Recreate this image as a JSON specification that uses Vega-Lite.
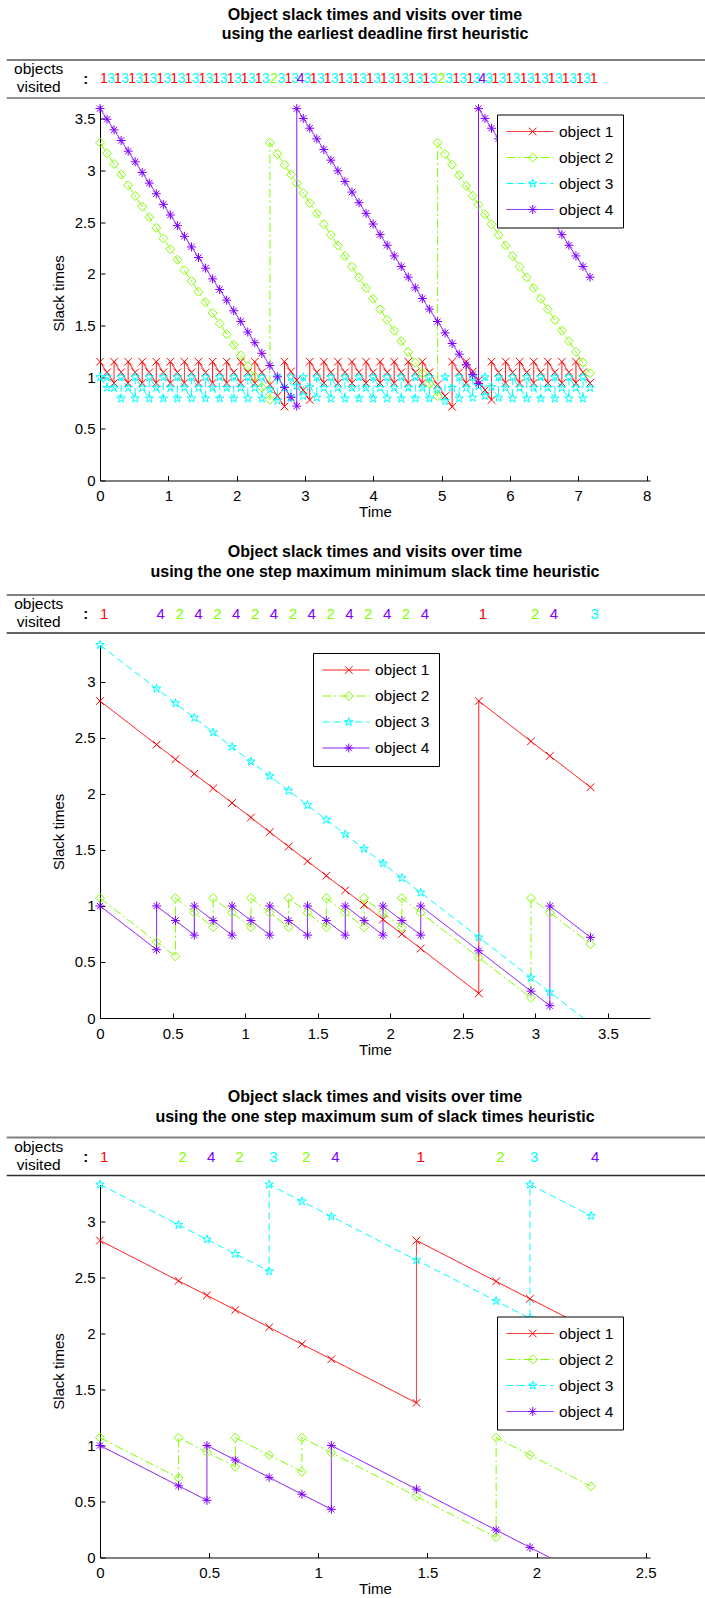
{
"$schema":"https://vega.github.io/schema/vega-lite/v6.json",
"padding":{"left":5,"top":6,"right":0,"bottom":0},
"config":{"view":{"stroke":null},"font":"Liberation Sans",
 "axis":{"domainColor":"black","domainWidth":1,"tickColor":"black","tickSize":-5,"tickWidth":1,"labelColor":"black","labelFontSize":15,"labelFont":"Liberation Sans","titleFont":"Liberation Sans","titleFontSize":15,"titleFontWeight":"normal","titleColor":"black","grid":false},
 "axisX":{"labelPadding":13,"titlePadding":1},
 "axisY":{"labelPadding":10,"titlePadding":8},
 "title":{"fontSize":16,"fontWeight":"bold","font":"Liberation Sans","color":"black","lineHeight":19.5,"offset":17,"anchor":"middle","frame":"group"}},
"datasets":{
"p1":[
{"o":1,"t":0,"s":1.15},{"o":1,"t":0.103,"s":1.047},{"o":1,"t":0.206,"s":0.944},{"o":1,"t":0.206,"s":1.15},{"o":1,"t":0.309,"s":1.047},{"o":1,"t":0.412,"s":0.944},{"o":1,"t":0.412,"s":1.15},{"o":1,"t":0.515,"s":1.047},{"o":1,"t":0.618,"s":0.944},{"o":1,"t":0.618,"s":1.15},{"o":1,"t":0.721,"s":1.047},{"o":1,"t":0.824,"s":0.944},{"o":1,"t":0.824,"s":1.15},{"o":1,"t":0.927,"s":1.047},{"o":1,"t":1.03,"s":0.944},{"o":1,"t":1.03,"s":1.15},{"o":1,"t":1.133,"s":1.047},{"o":1,"t":1.236,"s":0.944},{"o":1,"t":1.236,"s":1.15},{"o":1,"t":1.339,"s":1.047},{"o":1,"t":1.442,"s":0.944},{"o":1,"t":1.442,"s":1.15},{"o":1,"t":1.545,"s":1.047},{"o":1,"t":1.648,"s":0.944},{"o":1,"t":1.648,"s":1.15},{"o":1,"t":1.751,"s":1.047},{"o":1,"t":1.854,"s":0.944},{"o":1,"t":1.854,"s":1.15},{"o":1,"t":1.957,"s":1.047},{"o":1,"t":2.06,"s":0.944},{"o":1,"t":2.06,"s":1.15},{"o":1,"t":2.163,"s":1.047},{"o":1,"t":2.266,"s":0.944},{"o":1,"t":2.266,"s":1.15},{"o":1,"t":2.369,"s":1.047},{"o":1,"t":2.487,"s":0.929},{"o":1,"t":2.597,"s":0.819},{"o":1,"t":2.7,"s":0.716},{"o":1,"t":2.7,"s":1.15},{"o":1,"t":2.795,"s":1.055},{"o":1,"t":2.88,"s":0.97},{"o":1,"t":2.975,"s":0.875},{"o":1,"t":3.07,"s":0.78},{"o":1,"t":3.07,"s":1.15},{"o":1,"t":3.173,"s":1.047},{"o":1,"t":3.276,"s":0.944},{"o":1,"t":3.276,"s":1.15},{"o":1,"t":3.379,"s":1.047},{"o":1,"t":3.482,"s":0.944},{"o":1,"t":3.482,"s":1.15},{"o":1,"t":3.585,"s":1.047},{"o":1,"t":3.688,"s":0.944},{"o":1,"t":3.688,"s":1.15},{"o":1,"t":3.791,"s":1.047},{"o":1,"t":3.894,"s":0.944},{"o":1,"t":3.894,"s":1.15},{"o":1,"t":3.997,"s":1.047},{"o":1,"t":4.1,"s":0.944},{"o":1,"t":4.1,"s":1.15},{"o":1,"t":4.203,"s":1.047},{"o":1,"t":4.306,"s":0.944},{"o":1,"t":4.306,"s":1.15},{"o":1,"t":4.409,"s":1.047},{"o":1,"t":4.512,"s":0.944},{"o":1,"t":4.512,"s":1.15},{"o":1,"t":4.615,"s":1.047},{"o":1,"t":4.718,"s":0.944},{"o":1,"t":4.718,"s":1.15},{"o":1,"t":4.821,"s":1.047},{"o":1,"t":4.941,"s":0.927},{"o":1,"t":5.051,"s":0.817},{"o":1,"t":5.154,"s":0.714},{"o":1,"t":5.154,"s":1.15},{"o":1,"t":5.257,"s":1.047},{"o":1,"t":5.36,"s":0.944},{"o":1,"t":5.36,"s":1.15},{"o":1,"t":5.455,"s":1.055},{"o":1,"t":5.54,"s":0.97},{"o":1,"t":5.635,"s":0.875},{"o":1,"t":5.73,"s":0.78},{"o":1,"t":5.73,"s":1.15},{"o":1,"t":5.833,"s":1.047},{"o":1,"t":5.936,"s":0.944},{"o":1,"t":5.936,"s":1.15},{"o":1,"t":6.039,"s":1.047},{"o":1,"t":6.142,"s":0.944},{"o":1,"t":6.142,"s":1.15},{"o":1,"t":6.245,"s":1.047},{"o":1,"t":6.348,"s":0.944},{"o":1,"t":6.348,"s":1.15},{"o":1,"t":6.451,"s":1.047},{"o":1,"t":6.554,"s":0.944},{"o":1,"t":6.554,"s":1.15},{"o":1,"t":6.657,"s":1.047},{"o":1,"t":6.76,"s":0.944},{"o":1,"t":6.76,"s":1.15},{"o":1,"t":6.863,"s":1.047},{"o":1,"t":6.966,"s":0.944},{"o":1,"t":6.966,"s":1.15},{"o":1,"t":7.069,"s":1.047},{"o":1,"t":7.172,"s":0.944},
{"o":2,"t":0,"s":3.27},{"o":2,"t":0.103,"s":3.167},{"o":2,"t":0.206,"s":3.064},{"o":2,"t":0.309,"s":2.961},{"o":2,"t":0.412,"s":2.858},{"o":2,"t":0.515,"s":2.755},{"o":2,"t":0.618,"s":2.652},{"o":2,"t":0.721,"s":2.549},{"o":2,"t":0.824,"s":2.446},{"o":2,"t":0.927,"s":2.343},{"o":2,"t":1.03,"s":2.24},{"o":2,"t":1.133,"s":2.137},{"o":2,"t":1.236,"s":2.034},{"o":2,"t":1.339,"s":1.931},{"o":2,"t":1.442,"s":1.828},{"o":2,"t":1.545,"s":1.725},{"o":2,"t":1.648,"s":1.622},{"o":2,"t":1.751,"s":1.519},{"o":2,"t":1.854,"s":1.416},{"o":2,"t":1.957,"s":1.313},{"o":2,"t":2.06,"s":1.21},{"o":2,"t":2.163,"s":1.107},{"o":2,"t":2.266,"s":1.004},{"o":2,"t":2.369,"s":0.901},{"o":2,"t":2.487,"s":0.783},{"o":2,"t":2.487,"s":3.27},{"o":2,"t":2.597,"s":3.16},{"o":2,"t":2.7,"s":3.057},{"o":2,"t":2.795,"s":2.962},{"o":2,"t":2.88,"s":2.877},{"o":2,"t":2.975,"s":2.782},{"o":2,"t":3.07,"s":2.687},{"o":2,"t":3.173,"s":2.584},{"o":2,"t":3.276,"s":2.481},{"o":2,"t":3.379,"s":2.378},{"o":2,"t":3.482,"s":2.275},{"o":2,"t":3.585,"s":2.172},{"o":2,"t":3.688,"s":2.069},{"o":2,"t":3.791,"s":1.966},{"o":2,"t":3.894,"s":1.863},{"o":2,"t":3.997,"s":1.76},{"o":2,"t":4.1,"s":1.657},{"o":2,"t":4.203,"s":1.554},{"o":2,"t":4.306,"s":1.451},{"o":2,"t":4.409,"s":1.348},{"o":2,"t":4.512,"s":1.245},{"o":2,"t":4.615,"s":1.142},{"o":2,"t":4.718,"s":1.039},{"o":2,"t":4.821,"s":0.936},{"o":2,"t":4.941,"s":0.816},{"o":2,"t":4.941,"s":3.27},{"o":2,"t":5.051,"s":3.16},{"o":2,"t":5.154,"s":3.057},{"o":2,"t":5.257,"s":2.954},{"o":2,"t":5.36,"s":2.851},{"o":2,"t":5.455,"s":2.756},{"o":2,"t":5.54,"s":2.671},{"o":2,"t":5.635,"s":2.576},{"o":2,"t":5.73,"s":2.481},{"o":2,"t":5.833,"s":2.378},{"o":2,"t":5.936,"s":2.275},{"o":2,"t":6.039,"s":2.172},{"o":2,"t":6.142,"s":2.069},{"o":2,"t":6.245,"s":1.966},{"o":2,"t":6.348,"s":1.863},{"o":2,"t":6.451,"s":1.76},{"o":2,"t":6.554,"s":1.657},{"o":2,"t":6.657,"s":1.554},{"o":2,"t":6.76,"s":1.451},{"o":2,"t":6.863,"s":1.348},{"o":2,"t":6.966,"s":1.245},{"o":2,"t":7.069,"s":1.142},{"o":2,"t":7.172,"s":1.039},
{"o":3,"t":0,"s":1},{"o":3,"t":0.103,"s":0.897},{"o":3,"t":0.103,"s":1},{"o":3,"t":0.206,"s":0.897},{"o":3,"t":0.309,"s":0.794},{"o":3,"t":0.309,"s":1},{"o":3,"t":0.412,"s":0.897},{"o":3,"t":0.515,"s":0.794},{"o":3,"t":0.515,"s":1},{"o":3,"t":0.618,"s":0.897},{"o":3,"t":0.721,"s":0.794},{"o":3,"t":0.721,"s":1},{"o":3,"t":0.824,"s":0.897},{"o":3,"t":0.927,"s":0.794},{"o":3,"t":0.927,"s":1},{"o":3,"t":1.03,"s":0.897},{"o":3,"t":1.133,"s":0.794},{"o":3,"t":1.133,"s":1},{"o":3,"t":1.236,"s":0.897},{"o":3,"t":1.339,"s":0.794},{"o":3,"t":1.339,"s":1},{"o":3,"t":1.442,"s":0.897},{"o":3,"t":1.545,"s":0.794},{"o":3,"t":1.545,"s":1},{"o":3,"t":1.648,"s":0.897},{"o":3,"t":1.751,"s":0.794},{"o":3,"t":1.751,"s":1},{"o":3,"t":1.854,"s":0.897},{"o":3,"t":1.957,"s":0.794},{"o":3,"t":1.957,"s":1},{"o":3,"t":2.06,"s":0.897},{"o":3,"t":2.163,"s":0.794},{"o":3,"t":2.163,"s":1},{"o":3,"t":2.266,"s":0.897},{"o":3,"t":2.369,"s":0.794},{"o":3,"t":2.369,"s":1},{"o":3,"t":2.487,"s":0.882},{"o":3,"t":2.597,"s":0.772},{"o":3,"t":2.597,"s":1},{"o":3,"t":2.7,"s":0.897},{"o":3,"t":2.795,"s":0.802},{"o":3,"t":2.795,"s":1},{"o":3,"t":2.88,"s":0.915},{"o":3,"t":2.975,"s":0.82},{"o":3,"t":2.975,"s":1},{"o":3,"t":3.07,"s":0.905},{"o":3,"t":3.173,"s":0.802},{"o":3,"t":3.173,"s":1},{"o":3,"t":3.276,"s":0.897},{"o":3,"t":3.379,"s":0.794},{"o":3,"t":3.379,"s":1},{"o":3,"t":3.482,"s":0.897},{"o":3,"t":3.585,"s":0.794},{"o":3,"t":3.585,"s":1},{"o":3,"t":3.688,"s":0.897},{"o":3,"t":3.791,"s":0.794},{"o":3,"t":3.791,"s":1},{"o":3,"t":3.894,"s":0.897},{"o":3,"t":3.997,"s":0.794},{"o":3,"t":3.997,"s":1},{"o":3,"t":4.1,"s":0.897},{"o":3,"t":4.203,"s":0.794},{"o":3,"t":4.203,"s":1},{"o":3,"t":4.306,"s":0.897},{"o":3,"t":4.409,"s":0.794},{"o":3,"t":4.409,"s":1},{"o":3,"t":4.512,"s":0.897},{"o":3,"t":4.615,"s":0.794},{"o":3,"t":4.615,"s":1},{"o":3,"t":4.718,"s":0.897},{"o":3,"t":4.821,"s":0.794},{"o":3,"t":4.821,"s":1},{"o":3,"t":4.941,"s":0.88},{"o":3,"t":5.051,"s":0.77},{"o":3,"t":5.051,"s":1},{"o":3,"t":5.154,"s":0.897},{"o":3,"t":5.257,"s":0.794},{"o":3,"t":5.257,"s":1},{"o":3,"t":5.36,"s":0.897},{"o":3,"t":5.455,"s":0.802},{"o":3,"t":5.455,"s":1},{"o":3,"t":5.54,"s":0.915},{"o":3,"t":5.635,"s":0.82},{"o":3,"t":5.635,"s":1},{"o":3,"t":5.73,"s":0.905},{"o":3,"t":5.833,"s":0.802},{"o":3,"t":5.833,"s":1},{"o":3,"t":5.936,"s":0.897},{"o":3,"t":6.039,"s":0.794},{"o":3,"t":6.039,"s":1},{"o":3,"t":6.142,"s":0.897},{"o":3,"t":6.245,"s":0.794},{"o":3,"t":6.245,"s":1},{"o":3,"t":6.348,"s":0.897},{"o":3,"t":6.451,"s":0.794},{"o":3,"t":6.451,"s":1},{"o":3,"t":6.554,"s":0.897},{"o":3,"t":6.657,"s":0.794},{"o":3,"t":6.657,"s":1},{"o":3,"t":6.76,"s":0.897},{"o":3,"t":6.863,"s":0.794},{"o":3,"t":6.863,"s":1},{"o":3,"t":6.966,"s":0.897},{"o":3,"t":7.069,"s":0.794},{"o":3,"t":7.069,"s":1},{"o":3,"t":7.172,"s":0.897},
{"o":4,"t":0,"s":3.6},{"o":4,"t":0.103,"s":3.497},{"o":4,"t":0.206,"s":3.394},{"o":4,"t":0.309,"s":3.291},{"o":4,"t":0.412,"s":3.188},{"o":4,"t":0.515,"s":3.085},{"o":4,"t":0.618,"s":2.982},{"o":4,"t":0.721,"s":2.879},{"o":4,"t":0.824,"s":2.776},{"o":4,"t":0.927,"s":2.673},{"o":4,"t":1.03,"s":2.57},{"o":4,"t":1.133,"s":2.467},{"o":4,"t":1.236,"s":2.364},{"o":4,"t":1.339,"s":2.261},{"o":4,"t":1.442,"s":2.158},{"o":4,"t":1.545,"s":2.055},{"o":4,"t":1.648,"s":1.952},{"o":4,"t":1.751,"s":1.849},{"o":4,"t":1.854,"s":1.746},{"o":4,"t":1.957,"s":1.643},{"o":4,"t":2.06,"s":1.54},{"o":4,"t":2.163,"s":1.437},{"o":4,"t":2.266,"s":1.334},{"o":4,"t":2.369,"s":1.231},{"o":4,"t":2.487,"s":1.113},{"o":4,"t":2.597,"s":1.003},{"o":4,"t":2.7,"s":0.9},{"o":4,"t":2.795,"s":0.805},{"o":4,"t":2.88,"s":0.72},{"o":4,"t":2.88,"s":3.6},{"o":4,"t":2.975,"s":3.505},{"o":4,"t":3.07,"s":3.41},{"o":4,"t":3.173,"s":3.307},{"o":4,"t":3.276,"s":3.204},{"o":4,"t":3.379,"s":3.101},{"o":4,"t":3.482,"s":2.998},{"o":4,"t":3.585,"s":2.895},{"o":4,"t":3.688,"s":2.792},{"o":4,"t":3.791,"s":2.689},{"o":4,"t":3.894,"s":2.586},{"o":4,"t":3.997,"s":2.483},{"o":4,"t":4.1,"s":2.38},{"o":4,"t":4.203,"s":2.277},{"o":4,"t":4.306,"s":2.174},{"o":4,"t":4.409,"s":2.071},{"o":4,"t":4.512,"s":1.968},{"o":4,"t":4.615,"s":1.865},{"o":4,"t":4.718,"s":1.762},{"o":4,"t":4.821,"s":1.659},{"o":4,"t":4.941,"s":1.539},{"o":4,"t":5.051,"s":1.429},{"o":4,"t":5.154,"s":1.326},{"o":4,"t":5.257,"s":1.223},{"o":4,"t":5.36,"s":1.12},{"o":4,"t":5.455,"s":1.025},{"o":4,"t":5.54,"s":0.94},{"o":4,"t":5.54,"s":3.6},{"o":4,"t":5.635,"s":3.505},{"o":4,"t":5.73,"s":3.41},{"o":4,"t":5.833,"s":3.307},{"o":4,"t":5.936,"s":3.204},{"o":4,"t":6.039,"s":3.101},{"o":4,"t":6.142,"s":2.998},{"o":4,"t":6.245,"s":2.895},{"o":4,"t":6.348,"s":2.792},{"o":4,"t":6.451,"s":2.689},{"o":4,"t":6.554,"s":2.586},{"o":4,"t":6.657,"s":2.483},{"o":4,"t":6.76,"s":2.38},{"o":4,"t":6.863,"s":2.277},{"o":4,"t":6.966,"s":2.174},{"o":4,"t":7.069,"s":2.071},{"o":4,"t":7.172,"s":1.968}
],
"v1":[{"t":0,"o":1},{"t":0.103,"o":3},{"t":0.206,"o":1},{"t":0.309,"o":3},{"t":0.412,"o":1},{"t":0.515,"o":3},{"t":0.618,"o":1},{"t":0.721,"o":3},{"t":0.824,"o":1},{"t":0.927,"o":3},{"t":1.03,"o":1},{"t":1.133,"o":3},{"t":1.236,"o":1},{"t":1.339,"o":3},{"t":1.442,"o":1},{"t":1.545,"o":3},{"t":1.648,"o":1},{"t":1.751,"o":3},{"t":1.854,"o":1},{"t":1.957,"o":3},{"t":2.06,"o":1},{"t":2.163,"o":3},{"t":2.266,"o":1},{"t":2.369,"o":3},{"t":2.487,"o":2},{"t":2.597,"o":3},{"t":2.7,"o":1},{"t":2.795,"o":3},{"t":2.88,"o":4},{"t":2.975,"o":3},{"t":3.07,"o":1},{"t":3.173,"o":3},{"t":3.276,"o":1},{"t":3.379,"o":3},{"t":3.482,"o":1},{"t":3.585,"o":3},{"t":3.688,"o":1},{"t":3.791,"o":3},{"t":3.894,"o":1},{"t":3.997,"o":3},{"t":4.1,"o":1},{"t":4.203,"o":3},{"t":4.306,"o":1},{"t":4.409,"o":3},{"t":4.512,"o":1},{"t":4.615,"o":3},{"t":4.718,"o":1},{"t":4.821,"o":3},{"t":4.941,"o":2},{"t":5.051,"o":3},{"t":5.154,"o":1},{"t":5.257,"o":3},{"t":5.36,"o":1},{"t":5.455,"o":3},{"t":5.54,"o":4},{"t":5.635,"o":3},{"t":5.73,"o":1},{"t":5.833,"o":3},{"t":5.936,"o":1},{"t":6.039,"o":3},{"t":6.142,"o":1},{"t":6.245,"o":3},{"t":6.348,"o":1},{"t":6.451,"o":3},{"t":6.554,"o":1},{"t":6.657,"o":3},{"t":6.76,"o":1},{"t":6.863,"o":3},{"t":6.966,"o":1},{"t":7.069,"o":3},{"t":7.172,"o":1}],
"p2":[
{"o":1,"t":0,"s":2.83},{"o":1,"t":0.39,"s":2.44},{"o":1,"t":0.52,"s":2.31},{"o":1,"t":0.65,"s":2.18},{"o":1,"t":0.78,"s":2.05},{"o":1,"t":0.91,"s":1.92},{"o":1,"t":1.04,"s":1.79},{"o":1,"t":1.17,"s":1.66},{"o":1,"t":1.3,"s":1.53},{"o":1,"t":1.43,"s":1.4},{"o":1,"t":1.56,"s":1.27},{"o":1,"t":1.69,"s":1.14},{"o":1,"t":1.82,"s":1.01},{"o":1,"t":1.95,"s":0.88},{"o":1,"t":2.08,"s":0.75},{"o":1,"t":2.21,"s":0.62},{"o":1,"t":2.61,"s":0.22},{"o":1,"t":2.61,"s":2.83},{"o":1,"t":2.97,"s":2.47},{"o":1,"t":3.1,"s":2.34},{"o":1,"t":3.38,"s":2.06},
{"o":2,"t":0,"s":1.07},{"o":2,"t":0.39,"s":0.68},{"o":2,"t":0.52,"s":0.55},{"o":2,"t":0.52,"s":1.07},{"o":2,"t":0.65,"s":0.94},{"o":2,"t":0.78,"s":0.81},{"o":2,"t":0.78,"s":1.07},{"o":2,"t":0.91,"s":0.94},{"o":2,"t":1.04,"s":0.81},{"o":2,"t":1.04,"s":1.07},{"o":2,"t":1.17,"s":0.94},{"o":2,"t":1.3,"s":0.81},{"o":2,"t":1.3,"s":1.07},{"o":2,"t":1.43,"s":0.94},{"o":2,"t":1.56,"s":0.81},{"o":2,"t":1.56,"s":1.07},{"o":2,"t":1.69,"s":0.94},{"o":2,"t":1.82,"s":0.81},{"o":2,"t":1.82,"s":1.07},{"o":2,"t":1.95,"s":0.94},{"o":2,"t":2.08,"s":0.81},{"o":2,"t":2.08,"s":1.07},{"o":2,"t":2.21,"s":0.94},{"o":2,"t":2.61,"s":0.54},{"o":2,"t":2.97,"s":0.18},{"o":2,"t":2.97,"s":1.07},{"o":2,"t":3.1,"s":0.94},{"o":2,"t":3.38,"s":0.66},
{"o":3,"t":0,"s":3.33},{"o":3,"t":0.39,"s":2.94},{"o":3,"t":0.52,"s":2.81},{"o":3,"t":0.65,"s":2.68},{"o":3,"t":0.78,"s":2.55},{"o":3,"t":0.91,"s":2.42},{"o":3,"t":1.04,"s":2.29},{"o":3,"t":1.17,"s":2.16},{"o":3,"t":1.3,"s":2.03},{"o":3,"t":1.43,"s":1.9},{"o":3,"t":1.56,"s":1.77},{"o":3,"t":1.69,"s":1.64},{"o":3,"t":1.82,"s":1.51},{"o":3,"t":1.95,"s":1.38},{"o":3,"t":2.08,"s":1.25},{"o":3,"t":2.21,"s":1.12},{"o":3,"t":2.61,"s":0.72},{"o":3,"t":2.97,"s":0.36},{"o":3,"t":3.1,"s":0.23},{"o":3,"t":3.38,"s":-0.05},
{"o":4,"t":0,"s":1},{"o":4,"t":0.39,"s":0.61},{"o":4,"t":0.39,"s":1},{"o":4,"t":0.52,"s":0.87},{"o":4,"t":0.65,"s":0.74},{"o":4,"t":0.65,"s":1},{"o":4,"t":0.78,"s":0.87},{"o":4,"t":0.91,"s":0.74},{"o":4,"t":0.91,"s":1},{"o":4,"t":1.04,"s":0.87},{"o":4,"t":1.17,"s":0.74},{"o":4,"t":1.17,"s":1},{"o":4,"t":1.3,"s":0.87},{"o":4,"t":1.43,"s":0.74},{"o":4,"t":1.43,"s":1},{"o":4,"t":1.56,"s":0.87},{"o":4,"t":1.69,"s":0.74},{"o":4,"t":1.69,"s":1},{"o":4,"t":1.82,"s":0.87},{"o":4,"t":1.95,"s":0.74},{"o":4,"t":1.95,"s":1},{"o":4,"t":2.08,"s":0.87},{"o":4,"t":2.21,"s":0.74},{"o":4,"t":2.21,"s":1},{"o":4,"t":2.61,"s":0.6},{"o":4,"t":2.97,"s":0.24},{"o":4,"t":3.1,"s":0.11},{"o":4,"t":3.1,"s":1},{"o":4,"t":3.38,"s":0.72}
],
"v2":[{"t":0,"o":1},{"t":0.39,"o":4},{"t":0.52,"o":2},{"t":0.65,"o":4},{"t":0.78,"o":2},{"t":0.91,"o":4},{"t":1.04,"o":2},{"t":1.17,"o":4},{"t":1.3,"o":2},{"t":1.43,"o":4},{"t":1.56,"o":2},{"t":1.69,"o":4},{"t":1.82,"o":2},{"t":1.95,"o":4},{"t":2.08,"o":2},{"t":2.21,"o":4},{"t":2.61,"o":1},{"t":2.97,"o":2},{"t":3.1,"o":4},{"t":3.38,"o":3}],
"p3":[
{"o":1,"t":0,"s":2.83},{"o":1,"t":0.36,"s":2.47},{"o":1,"t":0.49,"s":2.34},{"o":1,"t":0.62,"s":2.21},{"o":1,"t":0.775,"s":2.055},{"o":1,"t":0.925,"s":1.905},{"o":1,"t":1.06,"s":1.77},{"o":1,"t":1.45,"s":1.38},{"o":1,"t":1.45,"s":2.83},{"o":1,"t":1.815,"s":2.465},{"o":1,"t":1.97,"s":2.31},{"o":1,"t":2.25,"s":2.03},
{"o":2,"t":0,"s":1.07},{"o":2,"t":0.36,"s":0.71},{"o":2,"t":0.36,"s":1.07},{"o":2,"t":0.49,"s":0.94},{"o":2,"t":0.62,"s":0.81},{"o":2,"t":0.62,"s":1.07},{"o":2,"t":0.775,"s":0.915},{"o":2,"t":0.925,"s":0.765},{"o":2,"t":0.925,"s":1.07},{"o":2,"t":1.06,"s":0.935},{"o":2,"t":1.45,"s":0.545},{"o":2,"t":1.815,"s":0.18},{"o":2,"t":1.815,"s":1.07},{"o":2,"t":1.97,"s":0.915},{"o":2,"t":2.25,"s":0.635},
{"o":3,"t":0,"s":3.33},{"o":3,"t":0.36,"s":2.97},{"o":3,"t":0.49,"s":2.84},{"o":3,"t":0.62,"s":2.71},{"o":3,"t":0.775,"s":2.555},{"o":3,"t":0.775,"s":3.33},{"o":3,"t":0.925,"s":3.18},{"o":3,"t":1.06,"s":3.045},{"o":3,"t":1.45,"s":2.655},{"o":3,"t":1.815,"s":2.29},{"o":3,"t":1.97,"s":2.135},{"o":3,"t":1.97,"s":3.33},{"o":3,"t":2.25,"s":3.05},
{"o":4,"t":0,"s":1},{"o":4,"t":0.36,"s":0.64},{"o":4,"t":0.49,"s":0.51},{"o":4,"t":0.49,"s":1},{"o":4,"t":0.62,"s":0.87},{"o":4,"t":0.775,"s":0.715},{"o":4,"t":0.925,"s":0.565},{"o":4,"t":1.06,"s":0.43},{"o":4,"t":1.06,"s":1},{"o":4,"t":1.45,"s":0.61},{"o":4,"t":1.815,"s":0.245},{"o":4,"t":1.97,"s":0.09},{"o":4,"t":2.25,"s":-0.19}
],
"v3":[{"t":0,"o":1},{"t":0.36,"o":2},{"t":0.49,"o":4},{"t":0.62,"o":2},{"t":0.775,"o":3},{"t":0.925,"o":2},{"t":1.06,"o":4},{"t":1.45,"o":1},{"t":1.815,"o":2},{"t":1.97,"o":3},{"t":2.25,"o":4}]
},
"spacing":31.5,
"resolve":{"scale":{"x":"independent","y":"independent","color":"independent","stroke":"independent","shape":"independent","strokeDash":"independent"}},
"vconcat":[
{"spacing":24,
 "resolve":{"scale":{"x":"independent","y":"independent","color":"independent","stroke":"independent","shape":"independent","strokeDash":"independent"}},
 "vconcat":[
{"spacing":2.5,
 "resolve":{"scale":{"x":"independent","y":"independent","color":"independent","stroke":"independent","shape":"independent","strokeDash":"independent"}},
 "vconcat":[
 {"title":{"text":["Object slack times and visits over time","using the earliest deadline first heuristic"],"offset":17},
  "width":550,"height":38,"data":{"values":[{}]},
  "layer":[
   {"mark":{"type":"rule","color":"#808080","strokeWidth":2},"encoding":{"x":{"datum":-1.366,"type":"quantitative","scale":{"domain":[0,8.05],"nice":false,"zero":false},"axis":null},"x2":{"datum":8.883},"y":{"datum":1,"type":"quantitative","scale":{"domain":[0,1],"nice":false},"axis":null}}},
   {"mark":{"type":"rule","color":"#707070","strokeWidth":1.5},"encoding":{"x":{"datum":-1.366,"type":"quantitative"},"x2":{"datum":8.883},"y":{"datum":0,"type":"quantitative"}}},
   {"mark":{"type":"text","fontSize":15.5,"align":"center","baseline":"middle","color":"black"},"encoding":{"x":{"datum":-0.8975,"type":"quantitative"},"y":{"datum":0.76,"type":"quantitative"},"text":{"value":"objects"}}},
   {"mark":{"type":"text","fontSize":15.5,"align":"center","baseline":"middle","color":"black"},"encoding":{"x":{"datum":-0.8975,"type":"quantitative"},"y":{"datum":0.28,"type":"quantitative"},"text":{"value":"visited"}}},
   {"mark":{"type":"text","fontSize":15,"fontWeight":"bold","align":"center","baseline":"middle","color":"black"},"encoding":{"x":{"datum":-0.2094,"type":"quantitative"},"y":{"datum":0.5,"type":"quantitative"},"text":{"value":":"}}},
   {"data":{"name":"v1"},"mark":{"type":"text","fontSize":14,"align":"left","baseline":"middle"},"encoding":{"x":{"field":"t","type":"quantitative"},"y":{"datum":0.5,"type":"quantitative"},"text":{"field":"o","type":"nominal"},"color":{"field":"o","type":"nominal","scale":{"domain":[1,2,3,4],"range":["#ff0000","#80ff00","#00ffff","#8000ff"]},"legend":null}}}
  ]},
 {"width":550,"height":375,"data":{"name":"p1"},
  "encoding":{
   "x":{"field":"t","type":"quantitative","scale":{"domain":[0,8.05],"nice":false,"zero":false},"axis":{"title":"Time","values":[0,1,2,3,4,5,6,7,8],"format":"~g","labelFlush":false,"labelOverlap":false}},
   "y":{"field":"s","type":"quantitative","scale":{"domain":[0,3.63],"nice":false,"zero":false},"axis":{"title":"Slack times","values":[0,0.5,1,1.5,2,2.5,3,3.5],"format":"~g","labelOverlap":false}}
  },
  "layer":[
   {"mark":{"type":"line","clip":true,"strokeWidth":1},"encoding":{
     "stroke":{"field":"o","type":"nominal","scale":{"domain":[1,2,3,4],"range":["#ff0000","#80ff00","#00ffff","#8000ff"]},"legend":{"orient":"none","legendX":397,"legendY":9,"direction":"vertical","title":null,"symbolType":"stroke","symbolSize":2209,"symbolStrokeWidth":1,"clipHeight":16,"rowPadding":9,"padding":9,"labelOffset":5,"labelFontSize":15.5,"labelFont":"Liberation Sans","labelColor":"black","strokeColor":"black","fillColor":"white","labelExpr":"'object ' + datum.label","zindex":0}},
     "strokeDash":{"field":"o","type":"nominal","scale":{"domain":[1,2,3,4],"range":[[1,0],[9,3,2,3],[7,4],[1,0]]},"legend":{"orient":"none","legendX":397,"legendY":9,"direction":"vertical","title":null,"symbolType":"stroke","symbolSize":2209,"symbolStrokeWidth":1,"clipHeight":16,"rowPadding":9,"padding":9,"labelOffset":5,"labelFontSize":15.5,"labelFont":"Liberation Sans","labelColor":"black","strokeColor":"black","fillColor":"white","labelExpr":"'object ' + datum.label","zindex":0}},
     "order":{"value":null}}},
   {"transform":[{"filter":"datum.s >= 0"}],"mark":{"type":"point","filled":false,"strokeWidth":1,"size":81,"opacity":1},"encoding":{
     "color":{"field":"o","type":"nominal","scale":{"range":["#ff0000","#80ff00","#00ffff","#8000ff"]},"legend":{"orient":"none","legendX":397,"legendY":9,"direction":"vertical","title":null,"symbolSize":81,"symbolStrokeWidth":1,"clipHeight":16,"rowPadding":9,"padding":9,"symbolOffset":19,"labelOpacity":0,"labelFontSize":15.5,"strokeColor":"transparent","fillColor":"transparent","zindex":1}},
     "shape":{"field":"o","type":"nominal","scale":{"range":["M-0.85,-0.85L0.85,0.85M-0.85,0.85L0.85,-0.85","M0,-1L1,0L0,1L-1,0Z","M0,-1L0.225,-0.309L0.951,-0.309L0.363,0.118L0.588,0.809L0,0.382L-0.588,0.809L-0.363,0.118L-0.951,-0.309L-0.225,-0.309Z","M0,-1L0,1M-1,0L1,0M-0.7,-0.7L0.7,0.7M-0.7,0.7L0.7,-0.7"]},"legend":{"orient":"none","legendX":397,"legendY":9,"direction":"vertical","title":null,"symbolSize":81,"symbolStrokeWidth":1,"clipHeight":16,"rowPadding":9,"padding":9,"symbolOffset":19,"labelOpacity":0,"labelFontSize":15.5,"strokeColor":"transparent","fillColor":"transparent","zindex":1}}}}
  ]}
 ]},
{"spacing":4,
 "resolve":{"scale":{"x":"independent","y":"independent","color":"independent","stroke":"independent","shape":"independent","strokeDash":"independent"}},
 "vconcat":[
 {"title":{"text":["Object slack times and visits over time","using the one step maximum minimum slack time heuristic"],"offset":14.5},
  "width":550,"height":38,"data":{"values":[{}]},
  "layer":[
   {"mark":{"type":"rule","color":"#808080","strokeWidth":2},"encoding":{"x":{"datum":-0.643,"type":"quantitative","scale":{"domain":[0,3.79],"nice":false,"zero":false},"axis":null},"x2":{"datum":4.181},"y":{"datum":1,"type":"quantitative","scale":{"domain":[0,1],"nice":false},"axis":null}}},
   {"mark":{"type":"rule","color":"#303030","strokeWidth":1.5},"encoding":{"x":{"datum":-0.643,"type":"quantitative"},"x2":{"datum":4.181},"y":{"datum":0,"type":"quantitative"}}},
   {"mark":{"type":"text","fontSize":15.5,"align":"center","baseline":"middle","color":"black"},"encoding":{"x":{"datum":-0.4224,"type":"quantitative"},"y":{"datum":0.76,"type":"quantitative"},"text":{"value":"objects"}}},
   {"mark":{"type":"text","fontSize":15.5,"align":"center","baseline":"middle","color":"black"},"encoding":{"x":{"datum":-0.4224,"type":"quantitative"},"y":{"datum":0.28,"type":"quantitative"},"text":{"value":"visited"}}},
   {"mark":{"type":"text","fontSize":15,"fontWeight":"bold","align":"center","baseline":"middle","color":"black"},"encoding":{"x":{"datum":-0.0985,"type":"quantitative"},"y":{"datum":0.5,"type":"quantitative"},"text":{"value":":"}}},
   {"data":{"name":"v2"},"mark":{"type":"text","fontSize":15,"align":"left","baseline":"middle"},"encoding":{"x":{"field":"t","type":"quantitative"},"y":{"datum":0.5,"type":"quantitative"},"text":{"field":"o","type":"nominal"},"color":{"field":"o","type":"nominal","scale":{"domain":[1,2,3,4],"range":["#ff0000","#80ff00","#00ffff","#8000ff"]},"legend":null}}}
  ]},
 {"width":550,"height":373,"data":{"name":"p2"},
  "encoding":{
   "x":{"field":"t","type":"quantitative","scale":{"domain":[0,3.79],"nice":false,"zero":false},"axis":{"title":"Time","values":[0,0.5,1,1.5,2,2.5,3,3.5],"format":"~g","labelFlush":false,"labelOverlap":false}},
   "y":{"field":"s","type":"quantitative","scale":{"domain":[0,3.33],"nice":false,"zero":false},"axis":{"title":"Slack times","values":[0,0.5,1,1.5,2,2.5,3],"format":"~g","labelOverlap":false}}
  },
  "layer":[
   {"mark":{"type":"line","clip":true,"strokeWidth":1},"encoding":{
     "stroke":{"field":"o","type":"nominal","scale":{"domain":[1,2,3,4],"range":["#ff0000","#80ff00","#00ffff","#8000ff"]},"legend":{"orient":"none","legendX":213,"legendY":8,"direction":"vertical","title":null,"symbolType":"stroke","symbolSize":2209,"symbolStrokeWidth":1,"clipHeight":16,"rowPadding":9,"padding":9,"labelOffset":5,"labelFontSize":15.5,"labelFont":"Liberation Sans","labelColor":"black","strokeColor":"black","fillColor":"white","labelExpr":"'object ' + datum.label","zindex":0}},
     "strokeDash":{"field":"o","type":"nominal","scale":{"domain":[1,2,3,4],"range":[[1,0],[9,3,2,3],[7,4],[1,0]]},"legend":{"orient":"none","legendX":213,"legendY":8,"direction":"vertical","title":null,"symbolType":"stroke","symbolSize":2209,"symbolStrokeWidth":1,"clipHeight":16,"rowPadding":9,"padding":9,"labelOffset":5,"labelFontSize":15.5,"labelFont":"Liberation Sans","labelColor":"black","strokeColor":"black","fillColor":"white","labelExpr":"'object ' + datum.label","zindex":0}},
     "order":{"value":null}}},
   {"transform":[{"filter":"datum.s >= 0"}],"mark":{"type":"point","filled":false,"strokeWidth":1,"size":81,"opacity":1},"encoding":{
     "color":{"field":"o","type":"nominal","scale":{"range":["#ff0000","#80ff00","#00ffff","#8000ff"]},"legend":{"orient":"none","legendX":213,"legendY":8,"direction":"vertical","title":null,"symbolSize":81,"symbolStrokeWidth":1,"clipHeight":16,"rowPadding":9,"padding":9,"symbolOffset":19,"labelOpacity":0,"labelFontSize":15.5,"strokeColor":"transparent","fillColor":"transparent","zindex":1}},
     "shape":{"field":"o","type":"nominal","scale":{"range":["M-0.85,-0.85L0.85,0.85M-0.85,0.85L0.85,-0.85","M0,-1L1,0L0,1L-1,0Z","M0,-1L0.225,-0.309L0.951,-0.309L0.363,0.118L0.588,0.809L0,0.382L-0.588,0.809L-0.363,0.118L-0.951,-0.309L-0.225,-0.309Z","M0,-1L0,1M-1,0L1,0M-0.7,-0.7L0.7,0.7M-0.7,0.7L0.7,-0.7"]},"legend":{"orient":"none","legendX":213,"legendY":8,"direction":"vertical","title":null,"symbolSize":81,"symbolStrokeWidth":1,"clipHeight":16,"rowPadding":9,"padding":9,"symbolOffset":19,"labelOpacity":0,"labelFontSize":15.5,"strokeColor":"transparent","fillColor":"transparent","zindex":1}}}}
  ]}
 ]}
 ]},
{"spacing":1,
 "resolve":{"scale":{"x":"independent","y":"independent","color":"independent","stroke":"independent","shape":"independent","strokeDash":"independent"}},
 "vconcat":[
 {"title":{"text":["Object slack times and visits over time","using the one step maximum sum of slack times heuristic"],"offset":12},
  "width":550,"height":38,"data":{"values":[{}]},
  "layer":[
   {"mark":{"type":"rule","color":"#808080","strokeWidth":2},"encoding":{"x":{"datum":-0.4275,"type":"quantitative","scale":{"domain":[0,2.52],"nice":false,"zero":false},"axis":null},"x2":{"datum":2.78},"y":{"datum":1,"type":"quantitative","scale":{"domain":[0,1],"nice":false},"axis":null}}},
   {"mark":{"type":"rule","color":"#303030","strokeWidth":1.5},"encoding":{"x":{"datum":-0.4275,"type":"quantitative"},"x2":{"datum":2.78},"y":{"datum":0,"type":"quantitative"}}},
   {"mark":{"type":"text","fontSize":15.5,"align":"center","baseline":"middle","color":"black"},"encoding":{"x":{"datum":-0.2809,"type":"quantitative"},"y":{"datum":0.76,"type":"quantitative"},"text":{"value":"objects"}}},
   {"mark":{"type":"text","fontSize":15.5,"align":"center","baseline":"middle","color":"black"},"encoding":{"x":{"datum":-0.2809,"type":"quantitative"},"y":{"datum":0.28,"type":"quantitative"},"text":{"value":"visited"}}},
   {"mark":{"type":"text","fontSize":15,"fontWeight":"bold","align":"center","baseline":"middle","color":"black"},"encoding":{"x":{"datum":-0.0655,"type":"quantitative"},"y":{"datum":0.5,"type":"quantitative"},"text":{"value":":"}}},
   {"data":{"name":"v3"},"mark":{"type":"text","fontSize":15,"align":"left","baseline":"middle"},"encoding":{"x":{"field":"t","type":"quantitative"},"y":{"datum":0.5,"type":"quantitative"},"text":{"field":"o","type":"nominal"},"color":{"field":"o","type":"nominal","scale":{"domain":[1,2,3,4],"range":["#ff0000","#80ff00","#00ffff","#8000ff"]},"legend":null}}}
  ]},
 {"width":550,"height":373,"data":{"name":"p3"},
  "encoding":{
   "x":{"field":"t","type":"quantitative","scale":{"domain":[0,2.52],"nice":false,"zero":false},"axis":{"title":"Time","values":[0,0.5,1,1.5,2,2.5],"format":"~g","labelFlush":false,"labelOverlap":false}},
   "y":{"field":"s","type":"quantitative","scale":{"domain":[0,3.33],"nice":false,"zero":false},"axis":{"title":"Slack times","values":[0,0.5,1,1.5,2,2.5,3],"format":"~g","labelOverlap":false}}
  },
  "layer":[
   {"mark":{"type":"line","clip":true,"strokeWidth":1},"encoding":{
     "stroke":{"field":"o","type":"nominal","scale":{"domain":[1,2,3,4],"range":["#ff0000","#80ff00","#00ffff","#8000ff"]},"legend":{"orient":"none","legendX":397,"legendY":132,"direction":"vertical","title":null,"symbolType":"stroke","symbolSize":2209,"symbolStrokeWidth":1,"clipHeight":16,"rowPadding":9,"padding":9,"labelOffset":5,"labelFontSize":15.5,"labelFont":"Liberation Sans","labelColor":"black","strokeColor":"black","fillColor":"white","labelExpr":"'object ' + datum.label","zindex":0}},
     "strokeDash":{"field":"o","type":"nominal","scale":{"domain":[1,2,3,4],"range":[[1,0],[9,3,2,3],[7,4],[1,0]]},"legend":{"orient":"none","legendX":397,"legendY":132,"direction":"vertical","title":null,"symbolType":"stroke","symbolSize":2209,"symbolStrokeWidth":1,"clipHeight":16,"rowPadding":9,"padding":9,"labelOffset":5,"labelFontSize":15.5,"labelFont":"Liberation Sans","labelColor":"black","strokeColor":"black","fillColor":"white","labelExpr":"'object ' + datum.label","zindex":0}},
     "order":{"value":null}}},
   {"transform":[{"filter":"datum.s >= 0"}],"mark":{"type":"point","filled":false,"strokeWidth":1,"size":81,"opacity":1},"encoding":{
     "color":{"field":"o","type":"nominal","scale":{"range":["#ff0000","#80ff00","#00ffff","#8000ff"]},"legend":{"orient":"none","legendX":397,"legendY":132,"direction":"vertical","title":null,"symbolSize":81,"symbolStrokeWidth":1,"clipHeight":16,"rowPadding":9,"padding":9,"symbolOffset":19,"labelOpacity":0,"labelFontSize":15.5,"strokeColor":"transparent","fillColor":"transparent","zindex":1}},
     "shape":{"field":"o","type":"nominal","scale":{"range":["M-0.85,-0.85L0.85,0.85M-0.85,0.85L0.85,-0.85","M0,-1L1,0L0,1L-1,0Z","M0,-1L0.225,-0.309L0.951,-0.309L0.363,0.118L0.588,0.809L0,0.382L-0.588,0.809L-0.363,0.118L-0.951,-0.309L-0.225,-0.309Z","M0,-1L0,1M-1,0L1,0M-0.7,-0.7L0.7,0.7M-0.7,0.7L0.7,-0.7"]},"legend":{"orient":"none","legendX":397,"legendY":132,"direction":"vertical","title":null,"symbolSize":81,"symbolStrokeWidth":1,"clipHeight":16,"rowPadding":9,"padding":9,"symbolOffset":19,"labelOpacity":0,"labelFontSize":15.5,"strokeColor":"transparent","fillColor":"transparent","zindex":1}}}}
  ]}
 ]}
]
}
